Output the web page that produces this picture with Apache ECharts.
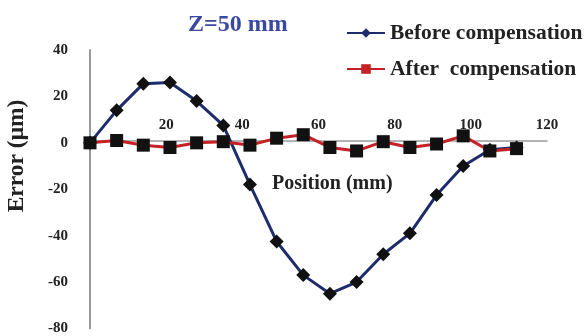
<!DOCTYPE html>
<html>
<head>
<meta charset="utf-8">
<script src="https://cdn.jsdelivr.net/npm/echarts@6/dist/echarts.min.js"></script>
<style>
html, body { margin: 0; padding: 0; background: #fff; }
#ct1 { width: 585px; height: 336px; }
</style>
</head>
<body>
<div id="ct1"></div>
<script>
var positions = [0, 7, 14, 21, 28, 35, 42, 49, 56, 63, 70, 77, 84, 91, 98, 105, 112];
var beforeComp = [0, 14, 25.5, 26, 18, 7.5, -18, -42.5, -57, -65, -60, -48, -39, -22.5, -10, -3, -2];
var afterComp = [0, 1, -1, -2, 0, 0.5, -1, 2, 3.5, -2, -3.5, 0.5, -2, -0.5, 3, -3.5, -2.5];
var xTicks = [0, 20, 40, 60, 80, 100, 120];
var yTicks = [-80, -60, -40, -20, 0, 20, 40];

var serif = "'Liberation Serif', 'Times New Roman', serif";
var blue = '#1E2C6B';
var red = '#C62127';

var gridTop = 50, gridBottom = 5, chartH = 336;
var yMin = yTicks[0], yMax = yTicks[yTicks.length - 1];
// shift the x axis (line + labels) up to y = 0
var zeroOffset = (chartH - gridTop - gridBottom) * (0 - yMin) / (yMax - yMin);

function pairs(xs, ys) {
	var out = [];
	for (var i = 0; i < xs.length; i++) {
		out.push([xs[i], ys[i]]);
	}
	return out;
}

var myChart1 = echarts.init(document.getElementById('ct1'));
var option1 = {
	animation: false,
	title: {
		text: 'Z=50 mm',
		left: 183,
		top: 8,
		textStyle: { fontFamily: serif, fontWeight: 'bold', fontSize: 24, color: '#3A49A0' }
	},
	legend: {
		orient: 'vertical',
		left: 341,
		top: 17,
		itemWidth: 38,
		itemHeight: 12,
		itemGap: 14,
		textStyle: { fontFamily: serif, fontWeight: 'bold', fontSize: 21.5, color: '#222' },
		data: [
			{ name: 'Before compensation', itemStyle: { color: blue } },
			{ name: 'After  compensation', itemStyle: { color: red } }
		]
	},
	grid: { left: 90, right: 38, top: gridTop, bottom: gridBottom },
	xAxis: {
		type: 'value',
		min: xTicks[0],
		max: xTicks[xTicks.length - 1],
		interval: 20,
		offset: -zeroOffset,
		axisLine: { onZero: false, lineStyle: { color: '#9a9a9a', width: 1.5 } },
		axisTick: { show: false },
		splitLine: { show: false },
		axisLabel: {
			inside: true,
			margin: 9,
			fontFamily: serif, fontWeight: 'bold', fontSize: 15, color: '#222',
			formatter: function (v) { return v === 0 ? '' : v; }
		}
	},
	yAxis: {
		type: 'value',
		min: yMin,
		max: yMax,
		interval: 20,
		axisLine: { show: true, onZero: false, lineStyle: { color: '#9a9a9a', width: 2 } },
		axisTick: { show: false },
		splitLine: { show: false },
		axisLabel: { margin: 22, fontFamily: serif, fontWeight: 'bold', fontSize: 15, color: '#222' }
	},
	graphic: [
		{
			type: 'text', left: 272, top: 174,
			style: { text: 'Position (mm)', font: 'bold 20px ' + serif, fill: '#222' }
		},
		{
			type: 'text', x: 17, y: 156, rotation: Math.PI / 2,
			style: { text: 'Error (μm)', font: 'bold 23.5px ' + serif, fill: '#222', align: 'center', verticalAlign: 'middle' }
		}
	],
	series: [
		{
			name: 'Before compensation',
			type: 'line',
			data: pairs(positions, beforeComp),
			symbol: 'diamond',
			symbolSize: 14,
			itemStyle: { color: '#111' },
			lineStyle: { color: blue, width: 3 }
		},
		{
			name: 'After  compensation',
			type: 'line',
			data: pairs(positions, afterComp),
			symbol: 'rect',
			symbolSize: 13,
			itemStyle: { color: '#111' },
			lineStyle: { color: red, width: 3 }
		}
	]
};
myChart1.setOption(option1, true);
</script>
</body>
</html>
